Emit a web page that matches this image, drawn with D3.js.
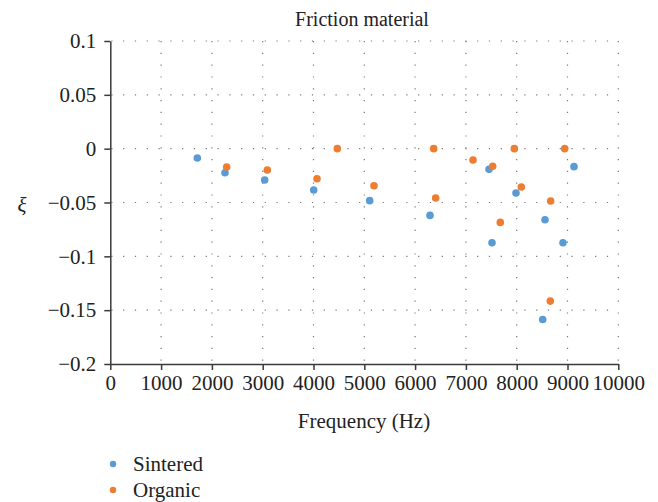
<!DOCTYPE html>
<html>
<head>
<meta charset="utf-8">
<script src="https://cdn.jsdelivr.net/npm/d3@7"></script>
<style>
  body { margin: 0; background: #fff; }
  svg { display: block; font-family: 'Liberation Serif', 'DejaVu Serif', serif; }
  .axis path, .axis line { stroke: #3a3a3a; stroke-width: 1.5; }
  .axis text { font-size: 21px; fill: #222; font-family: 'Liberation Serif', serif; }
  .grid line { stroke: #777; stroke-width: 1.2; stroke-dasharray: 1.2 10.6; }
</style>
</head>
<body>
<svg width="658" height="502"></svg>
<script>
// data
const sinteredFreq = [1713, 2258, 3039, 4004, 5106, 6293, 7455, 7514, 7986, 8557, 8911, 9128, 8512];
const sinteredXi = [-0.0086, -0.0223, -0.0291, -0.0384, -0.0483, -0.0620, -0.0192, -0.0874, -0.0412, -0.0660, -0.0874, -0.0167, -0.1586];

const organicFreq = [2291, 3091, 4069, 4469, 5191, 6366, 6405, 7140, 7527, 7677, 7953, 8091, 8669, 8945, 8661];
const organicXi = [-0.0170, -0.0198, -0.0279, 0.0, -0.0344, 0.0, -0.0458, -0.0105, -0.0164, -0.0685, 0.0, -0.0356, -0.0486, 0.0, -0.1416];

const xTicks = [0, 1000, 2000, 3000, 4000, 5000, 6000, 7000, 8000, 9000, 10000];
const yTicks = [0.1, 0.05, 0, -0.05, -0.1, -0.15, -0.2];

const seriesNames = ['Sintered', 'Organic'];
const seriesColors = ['#5b9bd5', '#ed7d31'];

var svg = d3.select('svg');

var x = d3.scaleLinear().domain([0, 10000]).range([110.3, 618.3]);
var y = d3.scaleLinear().domain([-0.2, 0.1]).range([364, 41]);

// dotted grid
var grid = svg.append('g').attr('class', 'grid');
grid.selectAll('line.h')
  .data(yTicks.filter(function (d) { return d > -0.2; }))
  .enter()
  .append('line')
  .attr('class', 'h')
  .attr('x1', x(0) + 1)
  .attr('x2', x(10000))
  .attr('y1', function (d) { return y(d); })
  .attr('y2', function (d) { return y(d); });
grid.selectAll('line.v')
  .data(xTicks.filter(function (d) { return d > 0; }))
  .enter()
  .append('line')
  .attr('class', 'v')
  .attr('y1', y(0.1))
  .attr('y2', y(-0.2))
  .attr('x1', function (d) { return x(d); })
  .attr('x2', function (d) { return x(d); });

// axes
var fmtY = function (d) { return d === 0 ? '0' : d3.format('~g')(d); };

svg.append('g')
  .attr('class', 'axis')
  .attr('transform', 'translate(' + x(0) + ',0)')
  .call(d3.axisLeft(y).tickValues(yTicks).tickFormat(fmtY).tickSize(6).tickSizeOuter(0).tickPadding(8));

svg.append('g')
  .attr('class', 'axis')
  .attr('transform', 'translate(0,' + y(-0.2) + ')')
  .call(d3.axisBottom(x).tickValues(xTicks).tickFormat(d3.format('d')).tickSize(6).tickSizeOuter(0).tickPadding(5));

// points
var series = [
  { freq: sinteredFreq, xi: sinteredXi },
  { freq: organicFreq, xi: organicXi }
];
series.forEach(function (s, i) {
  svg.append('g')
    .selectAll('circle')
    .data(s.freq.map(function (f, j) { return [f, s.xi[j]]; }))
    .enter()
    .append('circle')
    .attr('cx', function (d) { return x(d[0]); })
    .attr('cy', function (d) { return y(d[1]); })
    .attr('r', 3.8)
    .attr('fill', seriesColors[i]);
});

// titles
svg.append('text')
  .attr('x', 362)
  .attr('y', 26)
  .attr('text-anchor', 'middle')
  .attr('font-size', 20)
  .attr('fill', '#222')
  .text('Friction material');

svg.append('text')
  .attr('x', 364)
  .attr('y', 428)
  .attr('text-anchor', 'middle')
  .attr('font-size', 21)
  .attr('fill', '#222')
  .text('Frequency (Hz)');

svg.append('text')
  .attr('x', 22)
  .attr('y', 212)
  .attr('text-anchor', 'middle')
  .attr('font-size', 21)
  .attr('font-style', 'italic')
  .attr('fill', '#222')
  .text('ξ');

// legend
var legend = svg.append('g').attr('transform', 'translate(113,464)');
seriesNames.forEach(function (name, i) {
  var row = legend.append('g').attr('transform', 'translate(0,' + i * 26 + ')');
  row.append('circle').attr('r', 3.2).attr('fill', seriesColors[i]);
  row.append('text')
    .attr('x', 20)
    .attr('y', 7)
    .attr('font-size', 21)
    .attr('fill', '#222')
    .text(name);
});
</script>
</body>
</html>
